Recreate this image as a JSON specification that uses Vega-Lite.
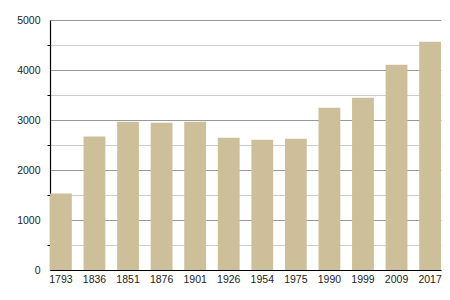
{
  "$schema": "https://vega.github.io/schema/vega-lite/v6.json",
  "autosize": "none",
  "width": 391,
  "height": 250,
  "padding": {"left": 50, "top": 20, "right": 9, "bottom": 30},
  "background": "white",
  "data": {
    "values": [
      {"year": "1793", "pop": 1532},
      {"year": "1836", "pop": 2672},
      {"year": "1851", "pop": 2966},
      {"year": "1876", "pop": 2946},
      {"year": "1901", "pop": 2966},
      {"year": "1926", "pop": 2646},
      {"year": "1954", "pop": 2606},
      {"year": "1975", "pop": 2626},
      {"year": "1990", "pop": 3246},
      {"year": "1999", "pop": 3446},
      {"year": "2009", "pop": 4106},
      {"year": "2017", "pop": 4566}
    ]
  },
  "config": {
    "view": {"stroke": null},
    "axis": {"labelFont": "Liberation Sans", "labelFontSize": 10.5, "labelColor": "#222"}
  },
  "mark": {"type": "bar", "color": "#CDBF9A"},
  "encoding": {
    "x": {
      "field": "year",
      "type": "ordinal",
      "sort": null,
      "scale": {"paddingInner": 0.35, "paddingOuter": 0},
      "axis": {
        "title": null,
        "labelAngle": 0,
        "ticks": false,
        "labelPadding": 4,
        "domainColor": "#000",
        "domainWidth": 1.2,
        "zindex": 1
      }
    },
    "y": {
      "field": "pop",
      "type": "quantitative",
      "scale": {"domain": [0, 5000], "nice": false},
      "axis": {
        "title": null,
        "zindex": 0,
        "values": [0, 500, 1000, 1500, 2000, 2500, 3000, 3500, 4000, 4500, 5000],
        "labelExpr": "datum.value % 1000 === 0 ? datum.label : ''",
        "format": "d",
        "grid": true,
        "gridColor": {"condition": {"test": "datum.value % 1000 === 0", "value": "#999999"}, "value": "#cccccc"},
        "gridWidth": 1,
        "tickSize": 3,
        "tickColor": "#000",
        "tickOpacity": {"condition": {"test": "datum.value % 1000 === 0", "value": 0}, "value": 1},
        "labelPadding": 7,
        "domainColor": "#000",
        "domainWidth": 1.2
      }
    }
  }
}
